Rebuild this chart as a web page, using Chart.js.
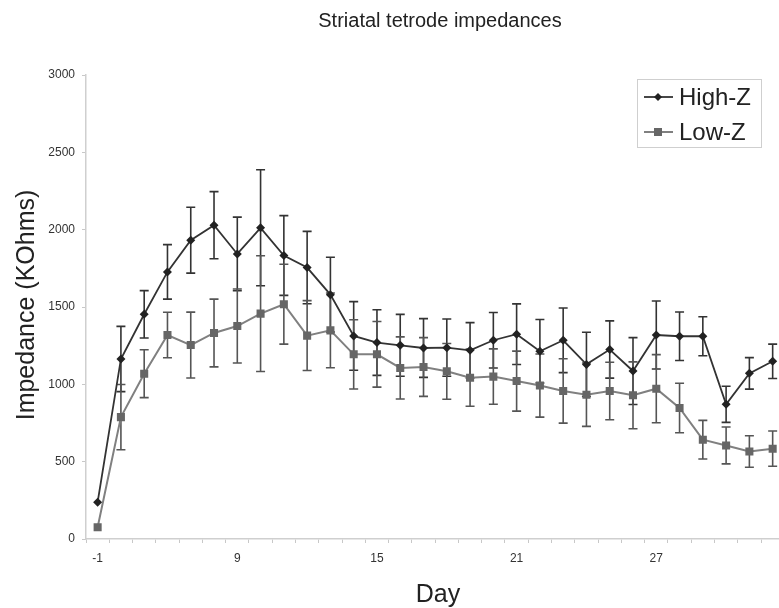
<!DOCTYPE html>
<html>
<head>
<meta charset="utf-8">
<script src="https://cdn.jsdelivr.net/npm/chart.js@4/dist/chart.umd.min.js"></script>
<style>
  html, body { margin: 0; padding: 0; background: #fff; overflow: hidden; }
  #wrap { position: relative; width: 790px; height: 608px; }
</style>
</head>
<body>
<div id="wrap"><canvas id="c"></canvas></div>
<script>
// ---- data ----
const days = ['-1','4','5','6','7','8','9','10','11','12','13','14','15','16','17','18','19','20','21','22','23','24','25','26','27','28','29','30','31','32'];
const xTickLabels = ['-1','9','15','21','27'];
const highZ = [238, 1164, 1453, 1727, 1932, 2029, 1843, 2012, 1833, 1755, 1580, 1313, 1270, 1252, 1235, 1237, 1220, 1285, 1324, 1214, 1285, 1129, 1225, 1086, 1319, 1311, 1311, 871, 1071, 1149];
const highZErr = [0, 211, 153, 176, 213, 217, 238, 375, 258, 234, 242, 222, 212, 200, 190, 185, 179, 179, 196, 205, 209, 208, 185, 216, 220, 157, 126, 117, 102, 111];
const lowZ = [76, 788, 1069, 1319, 1254, 1332, 1377, 1457, 1518, 1315, 1349, 1194, 1194, 1106, 1112, 1084, 1043, 1050, 1021, 992, 957, 933, 957, 929, 972, 847, 642, 605, 566, 584];
const lowZErr = [0, 211, 155, 147, 213, 219, 239, 374, 258, 226, 242, 224, 212, 201, 190, 180, 185, 179, 194, 204, 208, 205, 186, 216, 220, 160, 125, 119, 102, 114];
const yTicks = [0, 500, 1000, 1500, 2000, 2500, 3000];

const FONT = '"Liberation Sans", Arial, sans-serif';

const errorBars = {
  id: 'errorBars',
  beforeDatasetsDraw(chart) {
    const ctx = chart.ctx;
    const ys = chart.scales.y;
    chart.data.datasets.forEach((ds, di) => {
      const meta = chart.getDatasetMeta(di);
      ctx.save();
      ctx.strokeStyle = ds.errColor;
      ctx.lineWidth = 1.6;
      meta.data.forEach((pt, i) => {
        const e = ds.err[i];
        if (!e) return;
        const v = ds.data[i];
        const yt = ys.getPixelForValue(v + e);
        const yb = ys.getPixelForValue(v - e);
        const x = pt.x;
        ctx.beginPath();
        ctx.moveTo(x, yt); ctx.lineTo(x, yb);
        ctx.moveTo(x - 4.5, yt); ctx.lineTo(x + 4.5, yt);
        ctx.moveTo(x - 4.5, yb); ctx.lineTo(x + 4.5, yb);
        ctx.stroke();
      });
      ctx.restore();
    });
  }
};

const decor = {
  id: 'decor',
  afterDraw(chart) {
    const ctx = chart.ctx;
    ctx.save();
    // title
    ctx.fillStyle = '#222';
    ctx.textAlign = 'center';
    ctx.textBaseline = 'middle';
    ctx.font = '20px ' + FONT;
    ctx.fillText('Striatal tetrode impedances', 440, 21);
    // x title
    ctx.font = '25px ' + FONT;
    ctx.fillText('Day', 438, 595);
    // y title
    ctx.save();
    ctx.translate(27, 305);
    ctx.rotate(-Math.PI / 2);
    ctx.fillText('Impedance (KOhms)', 0, 0);
    ctx.restore();
    // legend
    ctx.strokeStyle = '#cfcfcf';
    ctx.lineWidth = 1;
    ctx.strokeRect(637.5, 79.5, 124, 68);
    const rows = [[97, 0], [132, 1]];
    rows.forEach(([y, di]) => {
      const ds = chart.data.datasets[di];
      ctx.strokeStyle = ds.borderColor;
      ctx.lineWidth = ds.borderWidth;
      ctx.beginPath();
      ctx.moveTo(644, y); ctx.lineTo(673, y);
      ctx.stroke();
      ctx.fillStyle = ds.pointBackgroundColor;
      ctx.beginPath();
      if (ds.pointStyle === 'rectRot') {
        ctx.moveTo(658, y - 4); ctx.lineTo(662, y); ctx.lineTo(658, y + 4); ctx.lineTo(654, y);
      } else {
        ctx.rect(654, y - 4, 8, 8);
      }
      ctx.closePath();
      ctx.fill();
      ctx.fillStyle = '#222';
      ctx.textAlign = 'left';
      ctx.font = '24px ' + FONT;
      ctx.fillText(ds.label, 679, y + 1);
    });
    ctx.restore();
  }
};

new Chart(document.getElementById('c'), {
  type: 'line',
  data: {
    labels: days,
    datasets: [
      {
        label: 'High-Z',
        data: highZ,
        err: highZErr,
        errColor: '#333',
        borderColor: '#333',
        borderWidth: 1.8,
        pointStyle: 'rectRot',
        pointRadius: 4.5,
        pointBackgroundColor: '#222',
        pointBorderColor: '#222',
        pointBorderWidth: 0,
        tension: 0
      },
      {
        label: 'Low-Z',
        data: lowZ,
        err: lowZErr,
        errColor: '#555',
        borderColor: '#808080',
        borderWidth: 2,
        pointStyle: 'rect',
        pointRadius: 5.7,
        pointBackgroundColor: '#666',
        pointBorderColor: '#666',
        pointBorderWidth: 0,
        tension: 0
      }
    ]
  },
  options: {
    responsive: true,
    maintainAspectRatio: false,
    animation: false,
    events: [],
    layout: { padding: { left: 0, right: 5, top: 75, bottom: 0 } },
    plugins: {
      legend: { display: false },
      title: { display: false },
      tooltip: { enabled: false }
    },
    scales: {
      x: {
        type: 'category',
        offset: true,
        grid: { offset: true, drawOnChartArea: false, drawTicks: true, tickLength: 4, color: '#c8c8c8' },
        border: { display: true, color: '#cfcfcf', width: 1.5 },
        ticks: {
          autoSkip: false,
          maxRotation: 0,
          padding: 8,
          color: '#333',
          font: { family: FONT, size: 12 },
          callback: function (v, i) {
            const l = this.getLabelForValue(v);
            return xTickLabels.includes(l) && i === days.indexOf(l) ? l : '';
          }
        },
        afterFit(s) { s.height = 69; }
      },
      y: {
        min: 0,
        max: 3000,
        afterBuildTicks(s) { s.ticks = yTicks.map(v => ({ value: v })); },
        grid: { drawOnChartArea: false, drawTicks: true, tickLength: 4, color: '#c8c8c8' },
        border: { display: true, color: '#cfcfcf', width: 1.5 },
        ticks: {
          padding: 7,
          color: '#333',
          font: { family: FONT, size: 12 },
          callback: (v) => String(v)
        },
        afterFit(s) { s.width = 86; }
      }
    }
  },
  plugins: [errorBars, decor]
});
</script>
</body>
</html>
